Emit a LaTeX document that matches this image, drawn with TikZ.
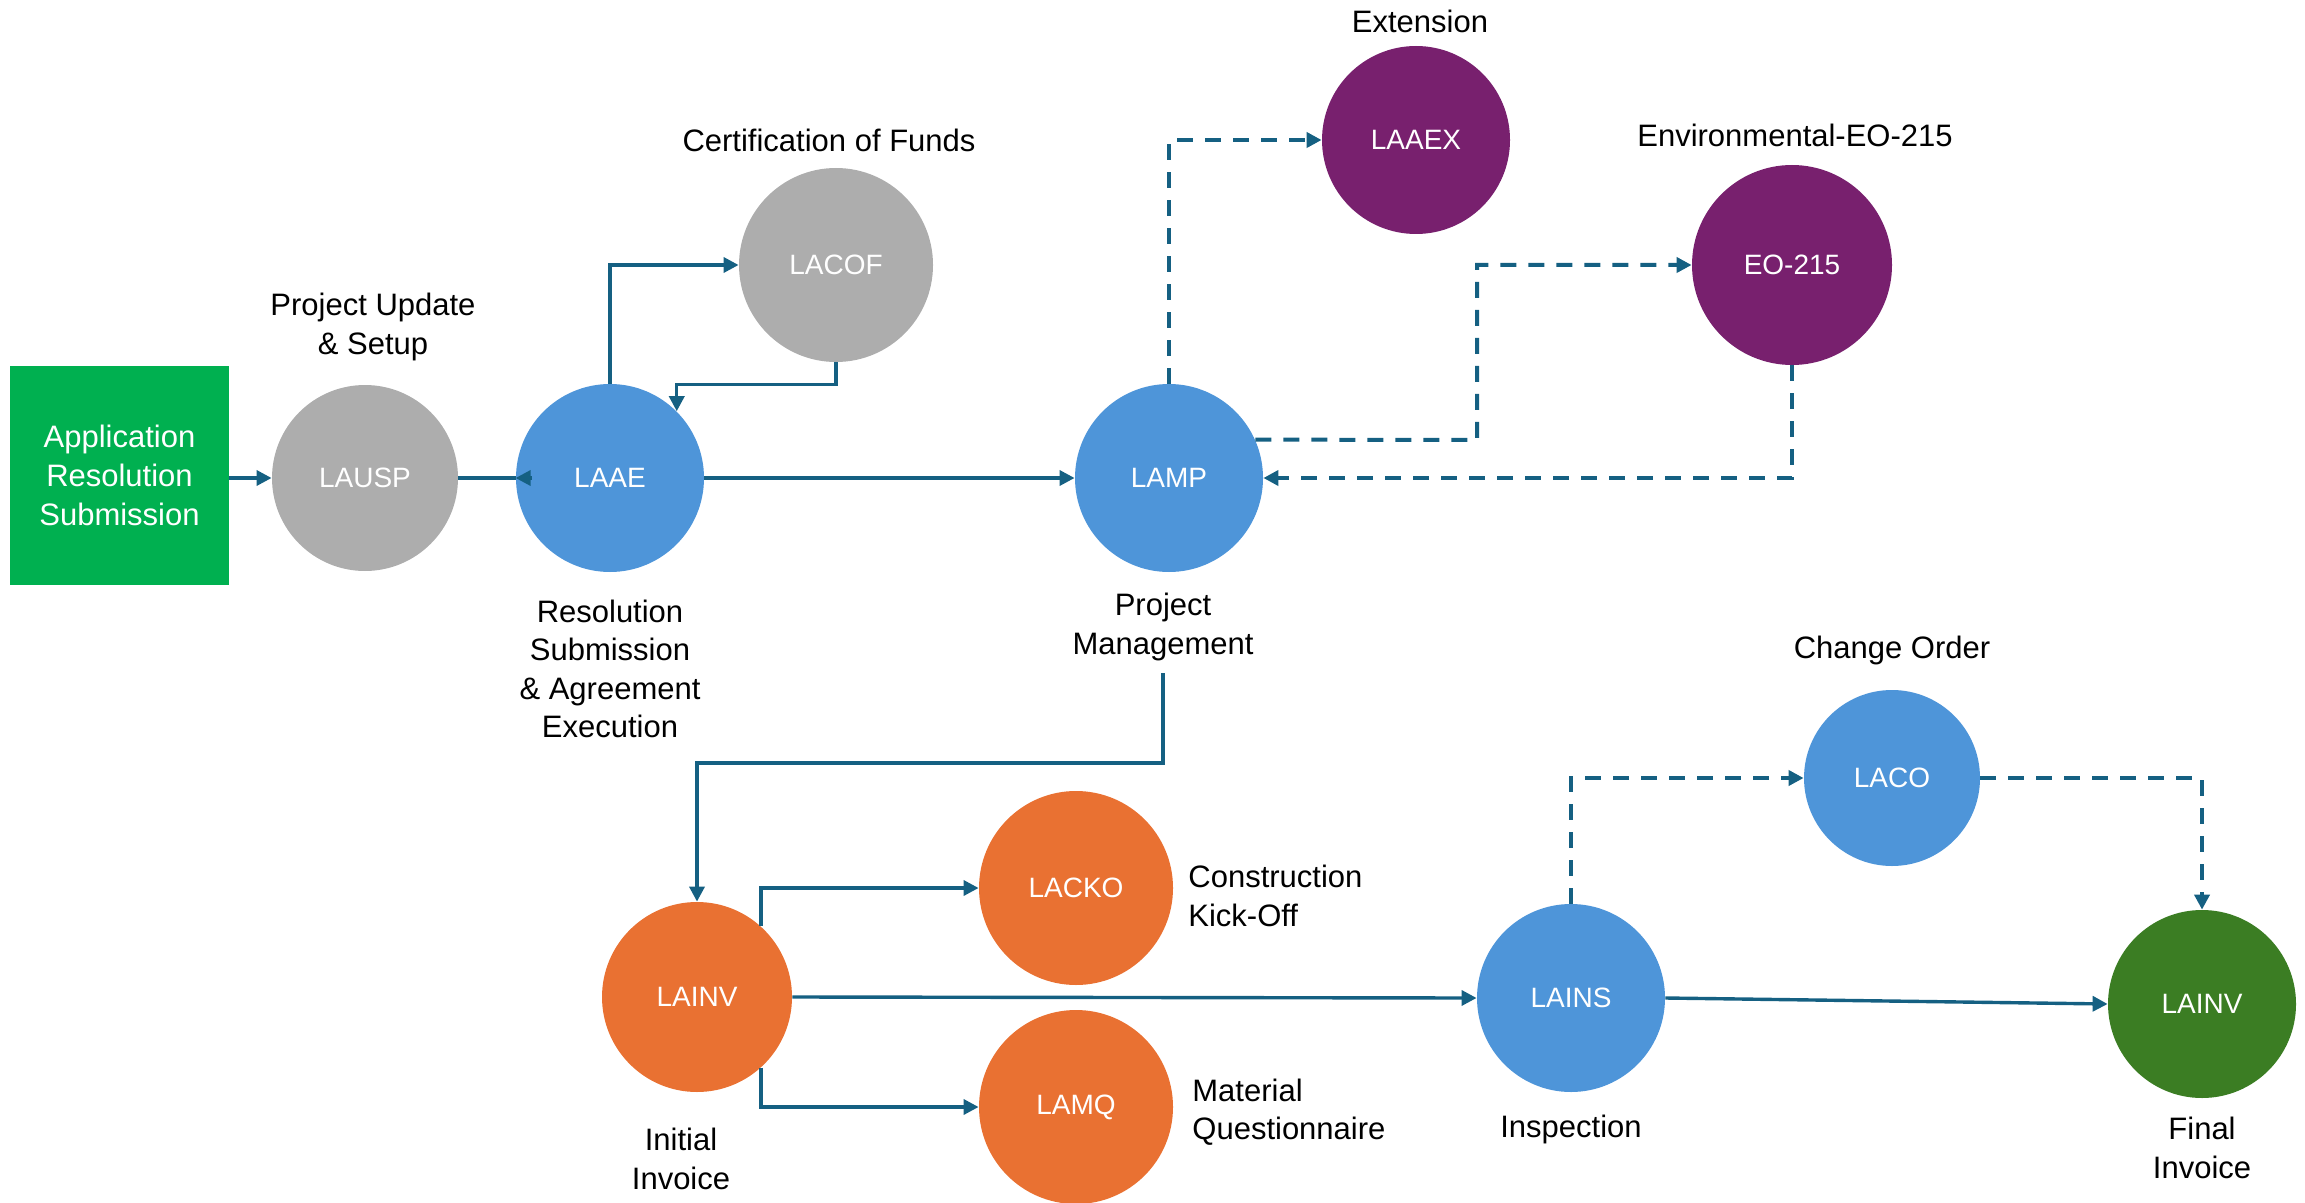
\documentclass[tikz,border=0pt]{standalone}
\usepackage{fontspec}
\setmainfont{Liberation Sans}
\usetikzlibrary{arrows.meta}
\definecolor{cgreen}{HTML}{00B050}
\definecolor{cgray}{HTML}{ADADAD}
\definecolor{cblue}{HTML}{4E95D9}
\definecolor{cpurple}{HTML}{78206E}
\definecolor{corange}{HTML}{E97132}
\definecolor{cdkgreen}{HTML}{3B7D23}
\definecolor{cline}{HTML}{156082}
\begin{document}
\begin{tikzpicture}[x=0.5pt,y=-0.5pt,
  circ/.style={circle, minimum size=#1, inner sep=0pt, text=white, font=\fontsize{14}{16}\selectfont},
  lbl/.style={align=center, inner sep=0pt, font=\fontsize{15.5}{19.3}\selectfont},
  conn/.style={draw=cline, line width=1.7pt, -{Triangle[length=7.5pt,width=7.5pt]}},
  dconn/.style={conn, line width=2pt, dash pattern=on 8pt off 6pt},
  plain/.style={draw=cline, line width=1.7pt}
]
\useasboundingbox (0,0) rectangle (2305,1203);
% nodes
\node[fill=cgreen, minimum width=109.5pt, minimum height=109.5pt, inner sep=0pt, text=white, align=center, font=\fontsize{15.5}{19.3}\selectfont] (app) at (119.5,475.5) {Application\\Resolution\\Submission};
\node[circ=93pt, fill=cgray] (lausp) at (365,478) {LAUSP};
\node[circ=94pt, fill=cblue] (laae) at (610,478) {LAAE};
\node[circ=97pt, fill=cgray] (lacof) at (836,265) {LACOF};
\node[circ=94pt, fill=cblue] (lamp) at (1169,478) {LAMP};
\node[circ=94pt, fill=cpurple] (laaex) at (1416,140) {LAAEX};
\node[circ=100pt, fill=cpurple] (eo) at (1792,265) {EO-215};
\node[circ=95pt, fill=corange] (lainv) at (697,997) {LAINV};
\node[circ=97pt, fill=corange] (lacko) at (1076,888) {LACKO};
\node[circ=97pt, fill=corange] (lamq) at (1076,1107) {LAMQ};
\node[circ=94pt, fill=cblue] (lains) at (1571,998) {LAINS};
\node[circ=88pt, fill=cblue] (laco) at (1892,778) {LACO};
\node[circ=94pt, fill=cdkgreen] (lainvf) at (2202,1004) {LAINV};
% labels
\node[lbl] (tpu) at (373,327) {Project Update\\\& Setup};
\node[lbl] (tcof) at (829,140) {Certification of Funds};
\node[lbl] (text) at (1420,21) {Extension};
\node[lbl] (tenv) at (1795,135) {Environmental-EO-215};
\node[lbl] (trs) at (610,669) {Resolution\\Submission\\\& Agreement\\Execution};
\node[lbl] (tpm) at (1163,627) {Project\\Management};
\node[lbl] (tco) at (1892,650) {Change Order};
\node[lbl, align=left, anchor=west] (tck) at (1188,896) {Construction\\Kick-Off};
\node[lbl, align=left, anchor=west] (tmq) at (1192,1112) {Material\\Questionnaire};
\node[lbl] (tii) at (681,1159) {Initial\\Invoice};
\node[lbl] (tins) at (1571,1129) {Inspection};
\node[lbl] (tfi) at (2202,1148) {Final\\Invoice};
% connectors
\draw[conn] (app.east |- lausp.west) -- (lausp.west);
\draw[plain] (lausp.east) -- (laae.west);
\draw[conn] ([xshift=8pt]laae.west) -- (laae.west);
\draw[conn] (laae.north) |- (lacof.west);
\draw[conn] (lacof.south) -- ++(0,22) -| (laae.45);
\draw[conn] (laae.east) -- (lamp.west);
\draw[dconn] (lamp.north) |- (laaex.west);
\coordinate (eoturn) at (1477,440);
\draw[dconn] (lamp.24) -- (eoturn) |- (eo.west);
\draw[dconn] (eo.south) |- (lamp.east);
\draw[conn] ([yshift=-6pt]tpm.south) -- ++(0,90) -| (lainv.north);
\draw[conn] (lainv.48) |- (lacko.west);
\draw[conn] (lainv.-48) |- (lamq.west);
\draw[conn] (lainv.east) -- (lains.west);
\draw[dconn] (lains.north) |- (laco.west);
\draw[dconn] (laco.east) -| (lainvf.north);
\draw[conn] (lains.east) -- (lainvf.west);
\end{tikzpicture}
\end{document}
